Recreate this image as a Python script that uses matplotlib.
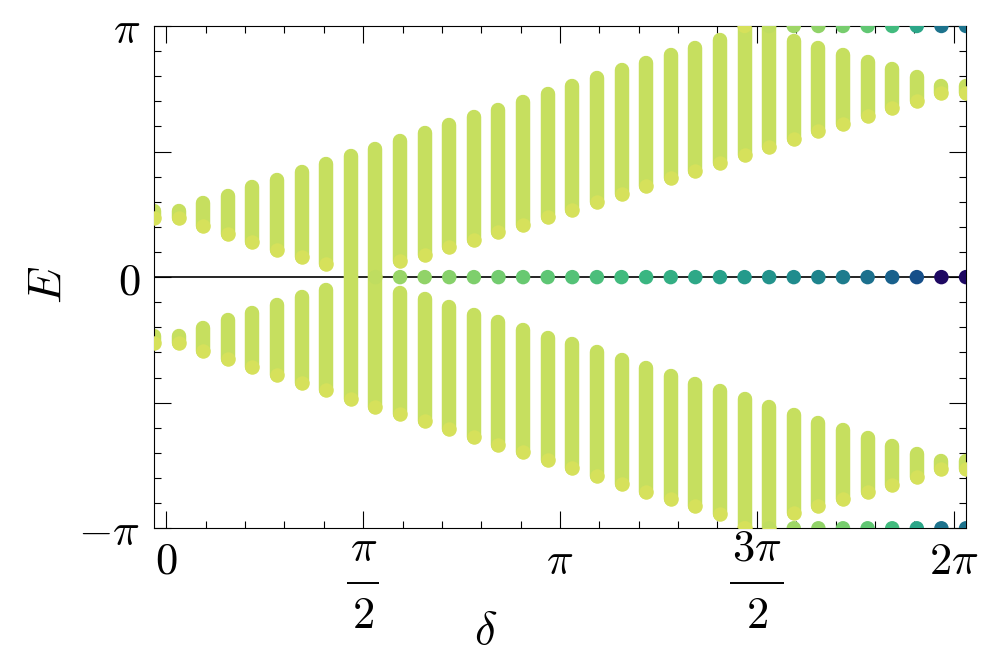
import numpy as np
import matplotlib
matplotlib.use("Agg")
import matplotlib.pyplot as plt
import matplotlib.transforms as mtransforms
from matplotlib.collections import LineCollection
from matplotlib.colors import LinearSegmentedColormap

plt.rcParams['mathtext.fontset'] = 'cm'
plt.rcParams['font.family'] = 'DejaVu Serif'

# quasi-energy grid along delta (34 columns)
delta = np.arange(34) * np.pi / 16 - np.pi / 32

# bulk bands, edges in units of pi
up_top = [0.263, 0.263, 0.295, 0.325, 0.357, 0.388, 0.420, 0.451, 0.481, 0.512,
          0.544, 0.574, 0.606, 0.638, 0.667, 0.698, 0.728, 0.760, 0.792, 0.823,
          0.854, 0.884, 0.913, 0.944, 1.000, 1.000, 0.940, 0.912, 0.884, 0.855,
          0.827, 0.795, 0.763, 0.763]
up_bot = [0.234, 0.234, 0.202, 0.171, 0.141, 0.110, 0.080, 0.052, 0.000, 0.000,
          0.065, 0.088, 0.118, 0.149, 0.178, 0.209, 0.241, 0.268, 0.300, 0.331,
          0.361, 0.393, 0.424, 0.455, 0.487, 0.517, 0.548, 0.580, 0.610, 0.641,
          0.673, 0.703, 0.734, 0.734]
lo_top = [-0.234, -0.234, -0.202, -0.171, -0.141, -0.110, -0.080, -0.052, 0.000, 0.000,
          -0.065, -0.088, -0.118, -0.149, -0.178, -0.209, -0.241, -0.268, -0.300, -0.331,
          -0.361, -0.393, -0.424, -0.455, -0.487, -0.517, -0.548, -0.580, -0.610, -0.641,
          -0.673, -0.703, -0.734, -0.734]
lo_bot = [-0.263, -0.263, -0.295, -0.325, -0.357, -0.388, -0.420, -0.451, -0.484, -0.516,
          -0.544, -0.574, -0.606, -0.638, -0.667, -0.698, -0.728, -0.760, -0.792, -0.823,
          -0.854, -0.884, -0.913, -0.944, -1.000, -1.000, -0.940, -0.912, -0.884, -0.855,
          -0.827, -0.795, -0.763, -0.763]

# edge-state weights (colour value) for E = 0 (columns 9..33) and E = +-pi (columns 24..33)
zero_start = 9
zero_w = [0.88, 0.78, 0.76, 0.73, 0.70, 0.67, 0.64, 0.61, 0.58, 0.55,
          0.52, 0.49, 0.46, 0.43, 0.40, 0.37, 0.34, 0.31, 0.28, 0.25,
          0.21, 0.16, 0.10, 0.0, 0.0]
pi_start = 24
pi_w = [1.0, 0.88, 0.80, 0.76, 0.68, 0.62, 0.52, 0.42, 0.22, 0.22]
band_w = 0.9
end_w = 1.0

# x tick labels: plain ones and stacked fractions
xt_pos = [0, np.pi / 2, np.pi, 3 * np.pi / 2, 2 * np.pi]
xt_lab = [r'$0$', '', r'$\pi$', '', r'$2\pi$']
frac_pos = [np.pi / 2, 3 * np.pi / 2]
frac_num = [r'$\pi$', r'$3\pi$']
frac_den = [r'$2$', r'$2$']

cmap = LinearSegmentedColormap.from_list('spec', [
    (0.00, '#1e0862'), (0.10, '#16508a'), (0.20, '#1c6e8d'), (0.30, '#1f8a8d'),
    (0.40, '#28a18a'), (0.50, '#3cb880'), (0.60, '#5ac575'), (0.70, '#7dcf6c'),
    (0.80, '#9ed666'), (0.90, '#c6df5f'), (1.00, '#d6e15b')])

dot_d = 10.4  # marker diameter in points

fig = plt.figure(figsize=(9.96, 6.56), dpi=100)
ax = fig.add_axes([0.1546, 0.1947, 0.8153, 0.7657])

ax.axhline(0, color='black', lw=1.2, zorder=1)

up_top = np.array(up_top) * np.pi
up_bot = np.array(up_bot) * np.pi
lo_top = np.array(lo_top) * np.pi
lo_bot = np.array(lo_bot) * np.pi

segs = [[(d, b), (d, t)] for d, b, t in zip(delta, up_bot, up_top)]
segs += [[(d, b), (d, t)] for d, b, t in zip(delta, lo_bot, lo_top)]
lc = LineCollection(segs, colors=[cmap(band_w)], linewidths=dot_d,
                    capstyle='round', zorder=2)
ax.add_collection(lc)

# lighter state at the lower end of each band
mask = up_bot != 0
ax.scatter(delta[mask], up_bot[mask], s=dot_d**2, color=cmap(end_w),
           linewidths=0, zorder=3)
ax.scatter(delta, lo_bot, s=dot_d**2, color=cmap(end_w), linewidths=0, zorder=3)

# edge states
ax.scatter(delta[zero_start:], np.zeros(len(zero_w)), s=dot_d**2, c=zero_w,
           cmap=cmap, vmin=0, vmax=1, linewidths=0, zorder=4)
for sgn in (1, -1):
    ax.scatter(delta[pi_start:], np.full(len(pi_w), sgn * np.pi), s=dot_d**2, c=pi_w,
               cmap=cmap, vmin=0, vmax=1, linewidths=0, zorder=4)

ax.set_xlim(delta[0], delta[-1])
ax.set_ylim(-np.pi, np.pi)

ax.set_xticks(xt_pos)
ax.set_xticklabels(xt_lab)
ax.set_xticks(np.arange(0, 21) * np.pi / 10, minor=True)
ax.set_yticks([-np.pi, -np.pi / 2, 0, np.pi / 2, np.pi])
ax.set_yticklabels([r'$-\pi$', '', r'$0$', '', r'$\pi$'])
ax.set_yticks(np.arange(-10, 11) * np.pi / 10, minor=True)

ax.tick_params(which='both', direction='in', top=True, right=True, width=0.8,
               labelsize=32)
ax.tick_params(which='major', length=12)
ax.tick_params(which='minor', length=5)
ax.tick_params(axis='x', pad=8)
ax.tick_params(axis='y', pad=10)
for sp in ax.spines.values():
    sp.set_linewidth(0.8)

# fractions drawn as stacked labels with a rule, like display-style TeX
trans = mtransforms.blended_transform_factory(ax.transData, ax.transAxes)
for x, num, den in zip(frac_pos, frac_num, frac_den):
    t = ax.text(x, -0.065, num, transform=trans, ha='center', va='baseline',
                fontsize=32, clip_on=False)
    ax.text(x, -0.1985, den, transform=trans, ha='center', va='baseline',
            fontsize=32, clip_on=False)
    hw = 0.125 if len(num) < 6 else 0.215
    ax.plot([x - hw, x + hw], [-0.109, -0.109], transform=trans, color='black',
            lw=1.4, clip_on=False, solid_capstyle='butt')

ax.set_xlabel(r'$\delta$', fontsize=34, va='bottom')
ax.set_ylabel(r'$E$', fontsize=34)
ax.xaxis.set_label_coords(0.408, -0.250)
ax.yaxis.set_label_coords(-0.103, 0.484)

fig.savefig('out.png', dpi=100)
